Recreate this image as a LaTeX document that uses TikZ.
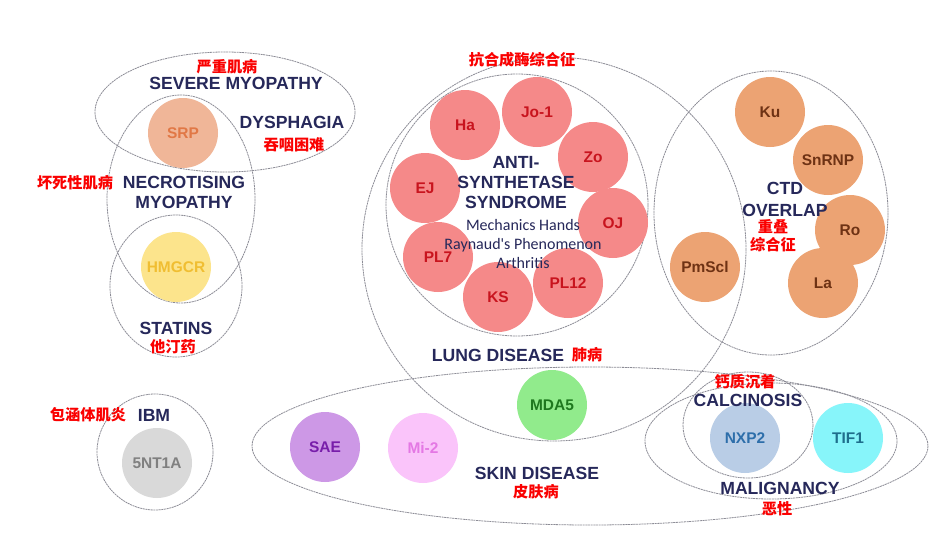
\documentclass[tikz,border=0pt]{standalone}
\usepackage{fontspec}
\setmainfont{Liberation Sans}
\newfontfamily\calib{Carlito}
\newfontfamily\cjk{Noto Sans CJK SC}
\definecolor{navy}{RGB}{38,40,90}
\definecolor{zhred}{RGB}{250,0,0}
\definecolor{ringgray}{RGB}{140,140,150}
\definecolor{redfill}{RGB}{245,137,137}
\definecolor{redtxt}{RGB}{200,20,30}
\definecolor{orfill}{RGB}{236,163,115}
\definecolor{ortxt}{RGB}{110,50,20}
\definecolor{srpfill}{RGB}{240,182,152}
\definecolor{srptxt}{RGB}{225,120,70}
\definecolor{hmfill}{RGB}{252,228,140}
\definecolor{hmtxt}{RGB}{240,190,50}
\definecolor{ntfill}{RGB}{217,217,217}
\definecolor{nttxt}{RGB}{128,128,128}
\definecolor{saefill}{RGB}{205,152,230}
\definecolor{saetxt}{RGB}{120,30,170}
\definecolor{mifill}{RGB}{250,196,250}
\definecolor{mitxt}{RGB}{228,120,228}
\definecolor{mdafill}{RGB}{145,235,140}
\definecolor{mdatxt}{RGB}{30,120,30}
\definecolor{nxpfill}{RGB}{185,205,230}
\definecolor{nxptxt}{RGB}{45,110,170}
\definecolor{tiffill}{RGB}{135,245,250}
\definecolor{tiftxt}{RGB}{30,110,140}
\begin{document}
\begin{tikzpicture}[x=0.75pt,y=-0.75pt,
  ring/.style={draw=ringgray, dash pattern=on 1.5pt off 0.5pt, line width=0.6pt},
  circ/.style={circle, minimum size=52.5pt, inner sep=0pt, font=\bfseries\fontsize{11.6}{13}\selectfont},
  lab/.style={font=\bfseries\fontsize{13.2}{15}\selectfont, text=navy, inner sep=0pt, align=center},
  sub/.style={font=\calib\fontsize{12}{14.3}\selectfont, text=navy, inner sep=0pt, align=center},
  zh/.style={font=\cjk\bfseries\fontsize{11.4}{13.5}\selectfont, text=zhred, inner sep=0pt, align=center}]
\useasboundingbox (0,0) rectangle (933,547);
\fill[white] (0,0) rectangle (933,547);

% enclosing rings
\draw[ring] (225,112) ellipse [x radius=130, y radius=60];
\draw[ring] (181,199) ellipse [x radius=74, y radius=104];
\draw[ring] (176,286) ellipse [x radius=66, y radius=71];
\draw[ring] (554,249) circle [radius=192];
\draw[ring] (517,205) circle [radius=131];
\draw[ring] (771,213) ellipse [x radius=117, y radius=142];
\draw[ring] (155,452) circle [radius=58];
\draw[ring] (590,446) ellipse [x radius=338, y radius=79];
\draw[ring] (771,441) ellipse [x radius=126, y radius=58];
\draw[ring] (748,425) ellipse [x radius=65, y radius=53];

% antibody circles
\node[circ, fill=srpfill, text=srptxt] (srp) at (183,133) {SRP};
\node[circ, fill=hmfill, text=hmtxt] (hmgcr) at (176,267) {HMGCR};
\node[circ, fill=redfill, text=redtxt] (ha) at (465,125) {Ha};
\node[circ, fill=redfill, text=redtxt] (jo) at (537,112) {Jo-1};
\node[circ, fill=redfill, text=redtxt] (zo) at (593,157) {Zo};
\node[circ, fill=redfill, text=redtxt] (ej) at (425,188) {EJ};
\node[circ, fill=redfill, text=redtxt] (oj) at (613,223) {OJ};
\node[circ, fill=redfill, text=redtxt] (plseven) at (438,257) {PL7};
\node[circ, fill=redfill, text=redtxt] (ks) at (498,297) {KS};
\node[circ, fill=redfill, text=redtxt] (pltwelve) at (568,283) {PL12};
\node[circ, fill=orfill, text=ortxt] (ku) at (770,112) {Ku};
\node[circ, fill=orfill, text=ortxt] (snrnp) at (828,160) {SnRNP};
\node[circ, fill=orfill, text=ortxt] (ro) at (850,230) {Ro};
\node[circ, fill=orfill, text=ortxt] (la) at (823,283) {La};
\node[circ, fill=orfill, text=ortxt] (pmscl) at (705,267) {PmScl};
\node[circ, fill=ntfill, text=nttxt] (nt) at (157,463) {5NT1A};
\node[circ, fill=saefill, text=saetxt] (sae) at (325,447) {SAE};
\node[circ, fill=mifill, text=mitxt] (mi) at (423,448) {Mi-2};
\node[circ, fill=mdafill, text=mdatxt] (mda) at (552,405) {MDA5};
\node[circ, fill=nxpfill, text=nxptxt] (nxp) at (745,438) {NXP2};
\node[circ, fill=tiffill, text=tiftxt] (tif) at (848,438) {TIF1};

% labels
\node[zh] (zsevere) at (227,67) {严重肌病};
\node[lab] (severe) at (236,83) {SEVERE MYOPATHY};
\node[lab] (dysph) at (292,122) {DYSPHAGIA};
\node[zh] (zdysph) at (294,145) {吞咽困难};
\node[zh] (znecro) at (75,183) {坏死性肌病};
\node[lab] (necro) at (184,192) {NECROTISING\\MYOPATHY};
\node[lab] (statins) at (176,328) {STATINS};
\node[zh] (zstatins) at (173,347) {他汀药};
\node[zh] (zanti) at (522,60) {抗合成酶综合征};
\node[lab] (anti) at (516,183) {ANTI-\\SYNTHETASE\\SYNDROME};
\node[sub] (symp) at (523,244) {Mechanics Hands\\Raynaud's Phenomenon\\Arthritis};
\node[lab] (lung) at (498,355) {LUNG DISEASE};
\node[zh] (zlung) at (587,355) {肺病};
\node[lab, font=\bfseries\fontsize{13.2}{16.5}\selectfont] (ctd) at (785,199) {CTD\\OVERLAP};
\node[zh] (zctd) at (773,236) {重叠\\综合征};
\node[lab] (ibm) at (154,415) {IBM};
\node[zh] (zibm) at (88,415) {包涵体肌炎};
\node[lab] (skin) at (537,473) {SKIN DISEASE};
\node[zh] (zskin) at (536,492) {皮肤病};
\node[zh] (zcalc) at (745,382) {钙质沉着};
\node[lab] (calc) at (748,400) {CALCINOSIS};
\node[lab] (malig) at (780,488) {MALIGNANCY};
\node[zh] (zmalig) at (777,509) {恶性};
\end{tikzpicture}
\end{document}
